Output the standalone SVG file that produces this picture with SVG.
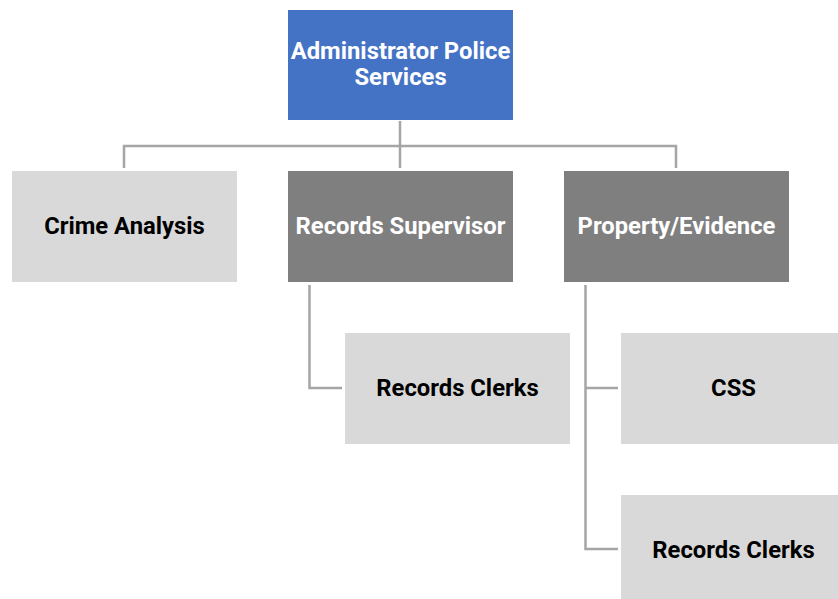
<svg xmlns="http://www.w3.org/2000/svg" width="838" height="599" viewBox="0 0 838 599">
  <style>
    .lbl { font-family: Roboto, "Liberation Sans", sans-serif; font-weight: bold; font-size: 23.8px; text-anchor: middle; dominant-baseline: central; }
    .dark { fill: #000000; }
    .light { fill: #FFFFFF; }
    .conn { fill: none; stroke: #A5A5A5; stroke-width: 2.5; }
  </style>
  <rect width="838" height="599" fill="#FFFFFF"/>

  <!-- connectors -->
  <g id="connectors" class="conn">
    <path d="M400,121 V146"/>
    <path d="M124,168 V146 H676 V168"/>
    <path d="M400,146 V168"/>
    <path d="M309.5,285 V388 H342"/>
    <path d="M585.5,285 V549 H618"/>
    <path d="M585.5,388 H618"/>
  </g>

  <g id="admin">
    <rect x="288" y="10" width="225" height="110" fill="#4472C4"/>
    <text class="lbl light" x="400.5" y="51">Administrator Police</text>
    <text class="lbl light" x="400.5" y="77">Services</text>
  </g>

  <g id="crime-analysis">
    <rect x="12" y="171" width="225" height="111" fill="#D9D9D9"/>
    <text class="lbl dark" x="124.5" y="226">Crime Analysis</text>
  </g>

  <g id="records-supervisor">
    <rect x="288" y="171" width="225" height="111" fill="#7F7F7F"/>
    <text class="lbl light" x="400.5" y="226">Records Supervisor</text>
  </g>

  <g id="property-evidence">
    <rect x="564" y="171" width="225" height="111" fill="#7F7F7F"/>
    <text class="lbl light" x="676.5" y="226">Property/Evidence</text>
  </g>

  <g id="records-clerks-1">
    <rect x="345" y="333" width="225" height="111" fill="#D9D9D9"/>
    <text class="lbl dark" x="457.5" y="388">Records Clerks</text>
  </g>

  <g id="css">
    <rect x="621" y="333" width="225" height="111" fill="#D9D9D9"/>
    <text class="lbl dark" x="733.5" y="388">CSS</text>
  </g>

  <g id="records-clerks-2">
    <rect x="621" y="495" width="225" height="111" fill="#D9D9D9"/>
    <text class="lbl dark" x="733.5" y="550">Records Clerks</text>
  </g>
</svg>
